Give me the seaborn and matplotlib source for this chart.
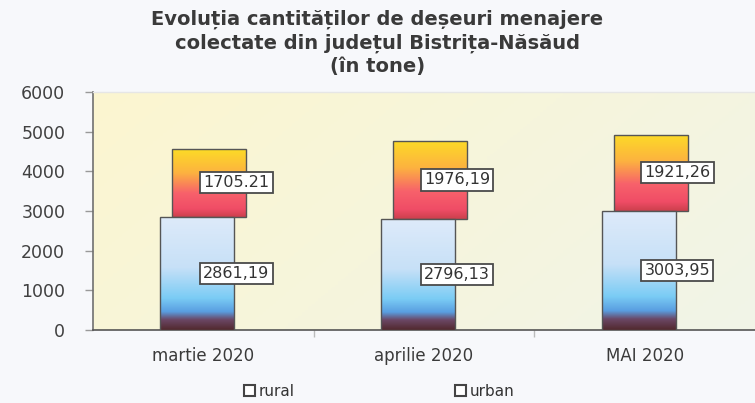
import numpy as np
import pandas as pd
import matplotlib
matplotlib.use("Agg")
import matplotlib.pyplot as plt
from matplotlib.colors import LinearSegmentedColormap
from matplotlib.patches import Rectangle
import seaborn as sns

# ---- data ----
categories = ["martie 2020", "aprilie 2020", "MAI 2020"]
rural = [2861.19, 2796.13, 3003.95]
urban = [1705.21, 1976.19, 1921.26]
rural_labels = ["2861,19", "2796,13", "3003,95"]
urban_labels = ["1705.21", "1976,19", "1921,26"]
y_ticks = [0, 1000, 2000, 3000, 4000, 5000, 6000]
series_names = ["rural", "urban"]
title = "Evoluția cantităților de deșeuri menajere\ncolectate din județul Bistrița-Năsăud\n(în tone)"

sns.set_theme(style="white")
plt.rcParams["font.family"] = ["DejaVu Sans"]

fig = plt.figure(figsize=(7.55, 4.03), dpi=100)
fig.patch.set_facecolor("#f7f8fb")
ax = fig.add_axes([93 / 755, 1 - 330 / 403, 1 - 93 / 755, (330 - 92) / 403])

df = pd.DataFrame({"cat": categories, "rural": rural, "urban": urban})

# urban drawn behind, shifted right (pseudo 3-D)
sns.barplot(data=df, x="cat", y="urban", bottom=df["rural"].to_numpy(), ax=ax,
            width=0.335, color="#f05060", edgecolor="#555555", linewidth=1.0,
            zorder=2)
n_urban = len(ax.patches)
sns.barplot(data=df, x="cat", y="rural", ax=ax, width=0.335, color="#80c8f0",
            edgecolor="#555555", linewidth=1.0, zorder=3)

shift = 0.027
urban_patches = ax.patches[:n_urban]
rural_patches = ax.patches[n_urban:]
for p in urban_patches:
    p.set_x(p.get_x() + shift)
for p in rural_patches:
    p.set_x(p.get_x() - shift)

ax.set_xlim(-0.5, 2.5)
ax.set_ylim(0, 6000)

rural_cmap = LinearSegmentedColormap.from_list("rural", [
    (0.00, (0.87, 0.92, 0.98)),
    (0.45, (0.78, 0.88, 0.97)),
    (0.72, (0.48, 0.80, 0.96)),
    (0.84, (0.35, 0.62, 0.88)),
    (0.91, (0.42, 0.28, 0.40)),
    (1.00, (0.32, 0.16, 0.18)),
])
urban_cmap = LinearSegmentedColormap.from_list("urban", [
    (0.00, (0.99, 0.86, 0.15)),
    (0.35, (0.99, 0.70, 0.25)),
    (0.65, (0.97, 0.38, 0.42)),
    (0.88, (0.94, 0.30, 0.40)),
    (1.00, (0.80, 0.25, 0.30)),
])
grad = np.linspace(0, 1, 256).reshape(-1, 1)


def fill_gradient(patch, cmap, z):
    x0, y0 = patch.get_x(), patch.get_y()
    w, h = patch.get_width(), patch.get_height()
    im = ax.imshow(grad, cmap=cmap, aspect="auto", extent=(x0, x0 + w, y0, y0 + h),
                   origin="upper", zorder=z, interpolation="bilinear")
    im.set_clip_path(patch)
    patch.set_facecolor("none")
    patch.set_zorder(z + 0.1)


for p in urban_patches:
    fill_gradient(p, urban_cmap, 2)
for p in rural_patches:
    fill_gradient(p, rural_cmap, 3)

# plot-area background gradient
bg = LinearSegmentedColormap.from_list("bg", ["#fcf6d0", "#f6f5dc", "#f1f4e8"])
xx, yy = np.meshgrid(np.linspace(0, 1, 200), np.linspace(0, 1, 200))
ax.imshow((xx * 0.7 + (1 - yy) * 0.3), cmap=bg, extent=(0, 1, 0, 1),
          transform=ax.transAxes, aspect="auto", zorder=0, origin="lower")
ax.set_facecolor("none")
ax.set_xlim(-0.5, 2.5)
ax.set_ylim(0, 6000)

# value labels
box = dict(boxstyle="square,pad=0.2", fc="white", ec="#4a4a4a", lw=1.3)
for i in range(len(categories)):
    ax.text(i + 0.0, rural[i] + urban[i] / 2, urban_labels[i], ha="left", va="center",
            fontsize=11.5, color="#333333", bbox=box, zorder=10)
    ax.text(i + 0.0, rural[i] / 2, rural_labels[i], ha="left", va="center",
            fontsize=11.5, color="#333333", bbox=box, zorder=10)

# axes styling
ax.set_xlabel("")
ax.set_ylabel("")
ax.set_yticks(y_ticks)
ax.set_yticklabels([str(t) for t in y_ticks], fontsize=12.5, color="#404040")
ax.set_xticks(range(len(categories)))
ax.set_xticklabels(categories, fontsize=12, color="#3a3a3a")
ax.tick_params(axis="y", direction="out", length=6, width=1, color="#999999",
               pad=14, left=True)
ax.tick_params(axis="x", length=0, pad=12)
ax.set_xticks([0.5, 1.5], minor=True)
ax.tick_params(axis="x", which="minor", direction="out", length=5, color="#bbbbbb",
               bottom=True)
ax.spines["left"].set_color("#707070")
ax.spines["bottom"].set_color("#555555")
for s in ["left", "bottom"]:
    ax.spines[s].set_visible(True)
    ax.spines[s].set_linewidth(1.2)
ax.spines["top"].set_visible(True)
ax.spines["top"].set_color("#e6e6e6")
ax.spines["top"].set_linewidth(1.0)
ax.spines["right"].set_visible(False)
ax.grid(False)

fig.text(0.50, 1 - 10 / 403, title, ha="center", va="top", fontsize=14,
         fontweight="bold", color="#3a3a3a", linespacing=1.28)

handles = [Rectangle((0, 0), 1, 1, fc="white", ec="#444444", lw=1.5) for _ in series_names]
fig.legend(handles, series_names, loc="center", bbox_to_anchor=(0.502, 1 - 391 / 403),
           ncol=2, frameon=False, fontsize=11, handlelength=0.7, handleheight=0.7,
           handletextpad=0.25, columnspacing=10.5, labelcolor="#333333")

fig.savefig("out.png", dpi=100, facecolor=fig.get_facecolor())
